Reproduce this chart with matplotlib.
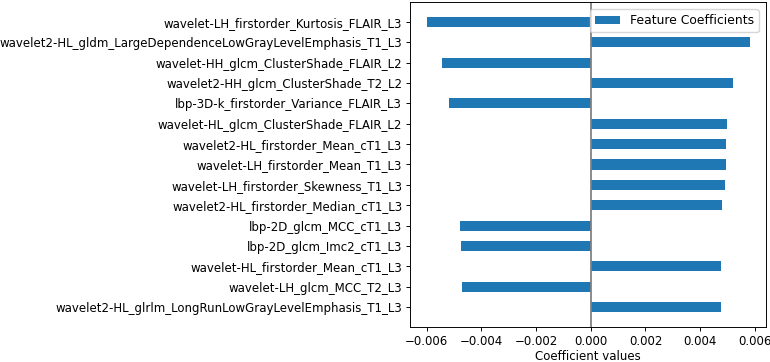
import matplotlib
matplotlib.use("Agg")
import matplotlib.pyplot as plt
import numpy as np

features = [
    "wavelet-LH_firstorder_Kurtosis_FLAIR_L3",
    "wavelet2-HL_gldm_LargeDependenceLowGrayLevelEmphasis_T1_L3",
    "wavelet-HH_glcm_ClusterShade_FLAIR_L2",
    "wavelet2-HH_glcm_ClusterShade_T2_L2",
    "lbp-3D-k_firstorder_Variance_FLAIR_L3",
    "wavelet-HL_glcm_ClusterShade_FLAIR_L2",
    "wavelet2-HL_firstorder_Mean_cT1_L3",
    "wavelet-LH_firstorder_Mean_T1_L3",
    "wavelet-LH_firstorder_Skewness_T1_L3",
    "wavelet2-HL_firstorder_Median_cT1_L3",
    "lbp-2D_glcm_MCC_cT1_L3",
    "lbp-2D_glcm_Imc2_cT1_L3",
    "wavelet-HL_firstorder_Mean_cT1_L3",
    "wavelet-LH_glcm_MCC_T2_L3",
    "wavelet2-HL_glrlm_LongRunLowGrayLevelEmphasis_T1_L3",
]
coefs = [
    -0.00600, 0.00582, -0.00545, 0.00521, -0.00518,
    0.00498, 0.00494, 0.00494, 0.00492, 0.00480,
    -0.00478, -0.00475, 0.00475, -0.00471, 0.00475,
]

# reference looks like a scaled-down render, so shrink everything a bit
s = 0.85
plt.rcParams.update({
    "font.size": 10 * s,
    "axes.linewidth": 0.8 * s,
    "xtick.major.size": 3.5 * s,
    "ytick.major.size": 3.5 * s,
    "xtick.major.width": 0.8 * s,
    "ytick.major.width": 0.8 * s,
    "xtick.major.pad": 3.5 * s,
    "ytick.major.pad": 3.5 * s,
    "legend.fontsize": 10.5 * s,
})

fig = plt.figure(figsize=(7.7, 3.62), dpi=100)
ax = fig.add_axes([0.533, 0.0967, 0.462, 0.8978])

ypos = np.arange(len(features))
ax.barh(ypos, coefs, height=0.5, color="#1f77b4", label="Feature Coefficients")
ax.set_yticks(ypos)
ax.set_yticklabels(features)
ax.invert_yaxis()
ax.axvline(0, color="grey", linewidth=1.5 * s)
ax.set_xlabel("Coefficient values", labelpad=1)
ax.legend(loc="upper right", borderaxespad=0.6)

fig.savefig("out.png", dpi=100)
